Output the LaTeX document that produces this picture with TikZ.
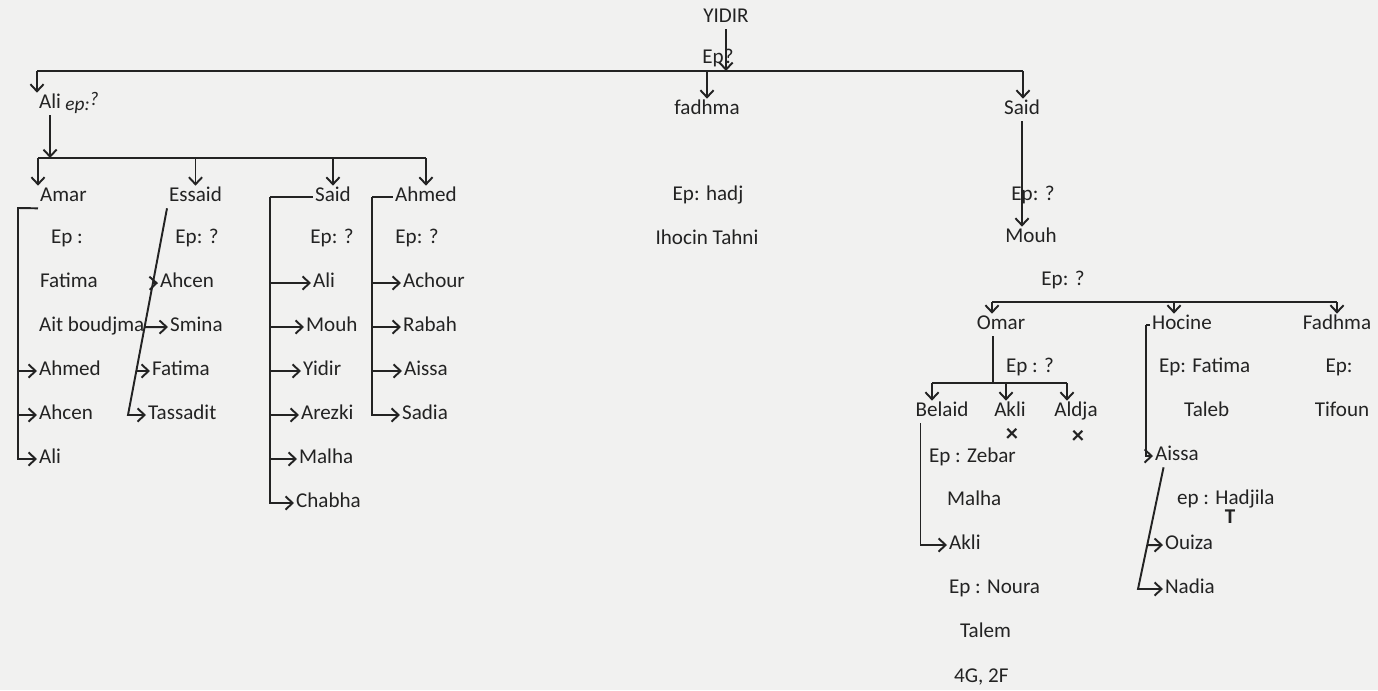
\documentclass[tikz,border=0pt]{standalone}
\usepackage{fontspec}
\setmainfont{Carlito}
\usetikzlibrary{arrows.meta,calc}
\definecolor{paper}{RGB}{241,241,240}
\definecolor{ink}{RGB}{35,35,35}
\begin{document}
\begin{tikzpicture}[x=0.02cm,y=-0.02cm,
    >={Straight Barb[length=4pt,width=7.5pt]},
    lbl/.style={inner sep=1pt,text=ink,font=\fontsize{12}{14}\selectfont,
      text height=8pt,text depth=2.5pt},
    kid/.style={lbl,anchor=west},
    conn/.style={draw=ink,line width=1.1pt},
    cross/.style={inner sep=0pt,text=ink,font=\fontsize{14}{15}\selectfont\bfseries,
      text height=5pt,text depth=0pt}]
    \fill[paper] (0,0) rectangle (1378,690);
    \useasboundingbox (0,0) rectangle (1378,690);
    % first generation
    \node[lbl] (yidir) at (726,18) {YIDIR};
    \node[lbl] (yidirep) at (718,59) {Ep?};
    \coordinate (topL) at (37,71);
    \coordinate (topR) at (1023,71);
    \node[kid] (ali) at (37,104) {Ali};
    \node[lbl,font=\fontsize{11}{12}\selectfont\itshape] (aliep) at (82,106) {ep:\raisebox{3pt}{?}};
    \node[lbl] (fadhma) at (707,110) {fadhma};
    \node[lbl] (said) at (1022,110) {Said};
    \draw[conn] (topL) -- (topR);
    \draw[conn,->] (yidir.south) -- (yidir.south |- topL);
    \draw[conn,->] (topL) -- (topL |- ali.north);
    \draw[conn,->] (fadhma.north |- topL) -- (fadhma.north);
    \draw[conn,->] (topR) -- (topR |- said.north);
    % Ali and his sons
    \node[kid] (amar) at (38,197) {Amar};
    \node[kid] (essaid) at (167,197) {Essaid};
    \node[kid] (said2) at (313,197) {Said};
    \node[kid] (ahmed) at (393,197) {Ahmed};
    \coordinate (hubA) at (38,158);
    \coordinate (hubAr) at (ahmed.north |- hubA);
    \draw[conn,->] (ali.south) -- (ali.south |- hubA);
    \draw[conn] (hubA) -- (hubAr);
    \draw[conn,->] (hubA) -- (amar.north west);
    \draw[conn,->] (essaid.north |- hubA) -- (essaid.north);
    \draw[conn,->] (said2.north |- hubA) -- (said2.north);
    \draw[conn,->] (hubAr) -- (ahmed.north);
    % Amar
    \node[lbl] (amarep) at (67,239) {Ep :};
    \node[kid] (amarw) at (38,283) {Fatima};
    \node[kid] (amarw2) at (37,327) {Ait boudjma};
    \node[kid] (amar1) at (37,371) {Ahmed};
    \node[kid] (amar2) at (37,415) {Ahcen};
    \node[kid] (amar3) at (37,459) {Ali};
    \coordinate (amarl) at (18,208);
    \draw[conn,->] (amar.south west) -- (amarl) |- (amar3.west);
    \draw[conn,->] (amarl |- amar1.west) -- (amar1.west);
    \draw[conn,->] (amarl |- amar2.west) -- (amar2.west);
    % Essaid
    \node[lbl] (essaidep) at (197,239) {Ep: ?};
    \node[kid] (es1) at (158,283) {Ahcen};
    \node[kid] (es2) at (168,327) {Smina};
    \node[kid] (es3) at (150,371) {Fatima};
    \node[kid] (es4) at (146,415) {Tassadit};
    \coordinate (esB) at (128,415);
    \draw[conn,->] (essaid.south west) -- (esB) -- (es4.west);
    \draw[conn,->] ($(essaid.south west)!0.362!(esB)$) -- (es1.west);
    \draw[conn,->] ($(essaid.south west)!0.575!(esB)$) -- (es2.west);
    \draw[conn,->] ($(essaid.south west)!0.787!(esB)$) -- (es3.west);
    % Said
    \node[lbl] (said2ep) at (332,239) {Ep: ?};
    \node[kid] (sd1) at (311,283) {Ali};
    \node[kid] (sd2) at (304,327) {Mouh};
    \node[kid] (sd3) at (301,371) {Yidir};
    \node[kid] (sd4) at (299,415) {Arezki};
    \node[kid] (sd5) at (297,459) {Malha};
    \node[kid] (sd6) at (294,503) {Chabha};
    \coordinate (sdl) at (270,197);
    \draw[conn] (said2.west) -- (sdl);
    \draw[conn,->] (sdl) |- (sd6.west);
    \draw[conn,->] (sdl |- sd1.west) -- (sd1.west);
    \draw[conn,->] (sdl |- sd2.west) -- (sd2.west);
    \draw[conn,->] (sdl |- sd3.west) -- (sd3.west);
    \draw[conn,->] (sdl |- sd4.west) -- (sd4.west);
    \draw[conn,->] (sdl |- sd5.west) -- (sd5.west);
    % Ahmed
    \node[lbl] (ahmedep) at (417,239) {Ep: ?};
    \node[kid] (ah1) at (401,283) {Achour};
    \node[kid] (ah2) at (401,327) {Rabah};
    \node[kid] (ah3) at (402,371) {Aissa};
    \node[kid] (ah4) at (400,415) {Sadia};
    \coordinate (ahl) at (372,197);
    \draw[conn] (ahmed.west) -- (ahl);
    \draw[conn,->] (ahl) |- (ah4.west);
    \draw[conn,->] (ahl |- ah1.west) -- (ah1.west);
    \draw[conn,->] (ahl |- ah2.west) -- (ah2.west);
    \draw[conn,->] (ahl |- ah3.west) -- (ah3.west);
    % fadhma
    \node[lbl] (fadhmaep) at (708,196) {Ep: hadj};
    \node[lbl] (fadhmaw) at (707,240) {Ihocin Tahni};
    % Said and Mouh
    \node[lbl] (saidep) at (1033,196) {Ep: ?};
    \node[lbl] (mouh) at (1031,238) {Mouh};
    \draw[conn,->] (said.south) -- (said.south |- mouh.north);
    \node[lbl] (mouhep) at (1063,281) {Ep: ?};
    \node[lbl] (omar) at (1001,325) {Omar};
    \node[lbl] (hocine) at (1182,325) {Hocine};
    \node[lbl] (fadhma2) at (1337,325) {Fadhma};
    \coordinate (hubM) at (992,302);
    \coordinate (hubMh) at (1174,302);
    \coordinate (hubMr) at (1337,302);
    \draw[conn] (hubM) -- (hubMr);
    \draw[conn,->] (hubM) -- (hubM |- omar.north);
    \draw[conn,->] (hubMh) -- (hubMh |- hocine.north);
    \draw[conn,->] (hubMr) -- (fadhma2.north);
    % Omar
    \node[lbl] (omarep) at (1030,368) {Ep : ?};
    \node[lbl] (belaid) at (942,412) {Belaid};
    \node[lbl] (akli) at (1010,412) {Akli};
    \node[lbl] (aldja) at (1076,412) {Aldja};
    \node[cross] (akliX) at (1012,437) {×};
    \node[cross] (aldjaX) at (1078,439) {×};
    \coordinate (hubO) at (932,383);
    \coordinate (hubOm) at (993,383);
    \coordinate (hubOa) at (1006,383);
    \coordinate (hubOr) at (1067,383);
    \draw[conn] (hubOm |- omar.south) -- (hubOm);
    \draw[conn] (hubO) -- (hubOr);
    \draw[conn,->] (hubO) -- (hubO |- belaid.north);
    \draw[conn,->] (hubOa) -- (hubOa |- akli.north);
    \draw[conn,->] (hubOr) -- (hubOr |- aldja.north);
    % Belaid
    \node[kid] (belaidep) at (927,458) {Ep : Zebar};
    \node[kid] (belaidw) at (945,501) {Malha};
    \node[kid] (bl1) at (947,545) {Akli};
    \node[kid] (bl1ep) at (947,589) {Ep : Noura};
    \node[kid] (bl1w) at (958,633) {Talem};
    \node[kid] (bl1n) at (952,678) {4G, 2F};
    \draw[conn,->] ([xshift=4pt]belaid.south west) |- (bl1.west);
    % Hocine
    \node[kid] (hocineep) at (1157,368) {Ep: Fatima};
    \node[kid] (hocinew) at (1182,412) {Taleb};
    \node[kid] (aissa) at (1153,456) {Aissa};
    \coordinate (hol) at (1146,325);
    \draw[conn] (hocine.west) -- (hol);
    \draw[conn,->] (hol) |- (aissa.west);
    % Aissa
    \node[kid] (aissaep) at (1175,500) {ep : Hadjila};
    \node[lbl,font=\fontsize{12}{14}\selectfont\bfseries] (aissaT) at (1230,519) {T};
    \node[kid] (ai1) at (1163,545) {Ouiza};
    \node[kid] (ai2) at (1163,589) {Nadia};
    \coordinate (aiB) at (1138,589);
    \draw[conn,->] ([xshift=6pt]aissa.south west) -- (aiB) -- (ai2.west);
    \draw[conn,->] ($([xshift=6pt]aissa.south west)!0.639!(aiB)$) -- (ai1.west);
    % Fadhma
    \node[lbl] (fadhma2ep) at (1339,368) {Ep:};
    \node[lbl] (fadhma2w) at (1342,412) {Tifoun};
\end{tikzpicture}
\end{document}
